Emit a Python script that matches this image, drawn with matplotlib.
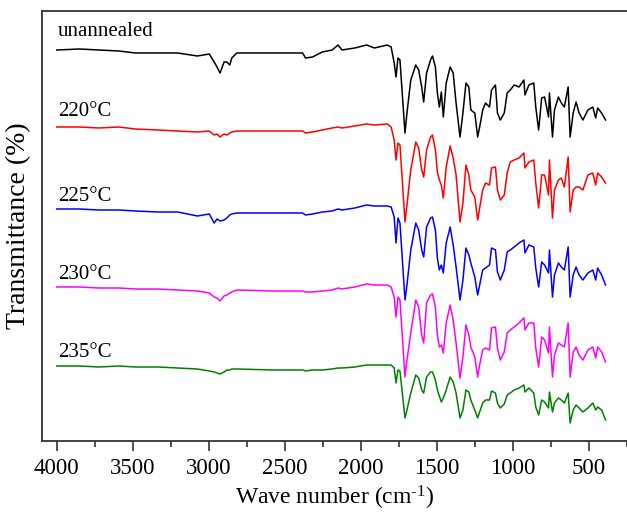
import matplotlib
matplotlib.use("Agg")
import matplotlib.pyplot as plt

plt.rcParams['font.family'] = ['Liberation Serif', 'DejaVu Serif']
plt.rcParams['mathtext.fontset'] = 'custom'
plt.rcParams['mathtext.rm'] = 'Liberation Serif'
plt.rcParams['mathtext.it'] = 'Liberation Serif:italic'

# Wave numbers (cm^-1)
wavenumber = [4000, 3851, 3722, 3592, 3483, 3334, 3204, 3075, 2997, 2965, 2946, 2926, 2900, 2881,
              2862, 2849, 2816, 2577, 2383, 2364, 2318, 2254, 2189, 2150, 2124, 2040, 1963, 1911,
              1827,
              1801, 1781, 1769, 1756, 1743, 1710, 1697, 1672, 1639, 1620,
              1600, 1587, 1568, 1542, 1529, 1510, 1497, 1484, 1471, 1458,
              1439, 1413, 1393, 1374, 1348, 1329, 1309, 1290, 1277, 1251,
              1232, 1219, 1199, 1180, 1154, 1141, 1115, 1102, 1083, 1057,
              1038, 1018, 992, 960, 928, 921, 895, 863, 850, 831,
              811, 792, 766, 760, 740, 727, 701, 682, 662, 637,
              624, 604, 585, 565, 540, 507, 475, 456, 443, 417,
              391]

# Transmittance (a.u., stacked as shown)
t_unannealed = [400, 401, 400, 399, 397, 397, 397, 394, 396, 388, 383, 377, 388, 388, 385, 392, 397, 397,
                397, 392, 393, 398, 400, 405, 400, 402, 405, 402, 405,
                403, 387, 373, 392, 390, 317, 337, 370, 385, 380,
                363, 348, 377, 390, 394, 383, 357, 343, 358, 333,
                367, 383, 377, 347, 313, 337, 367, 363, 340, 337,
                313, 323, 340, 347, 343, 360, 365, 337, 330, 337,
                357, 360, 365, 363, 370, 355, 365, 367, 343, 320,
                352, 353, 333, 357, 313, 340, 353, 347, 343, 363,
                313, 337, 348, 337, 330, 340, 343, 332, 342, 337,
                330]
t_220 = [323, 323, 322, 323, 321, 320, 319, 318, 319, 315, 316, 313, 316, 315, 317, 318, 319, 319,
         319, 317, 318, 320, 322, 323, 322, 324, 326, 325, 326,
         323, 310, 290, 307, 305, 228, 245, 280, 308, 302,
         280, 273, 300, 313, 315, 300, 278, 270, 265, 252,
         283, 304, 292, 275, 228, 247, 285, 275, 260, 253,
         230, 242, 260, 267, 265, 282, 283, 260, 250, 255,
         277, 288, 290, 292, 297, 282, 288, 290, 267, 242,
         275, 275, 255, 290, 232, 260, 270, 272, 263, 293,
         238, 260, 263, 263, 260, 275, 277, 265, 277, 273,
         267]
t_225 = [241, 241, 240, 240, 239, 238, 238, 234, 236, 227, 231, 229, 230, 232, 235, 236, 237, 237,
         237, 235, 236, 238, 239, 241, 240, 242, 245, 244, 244,
         243, 233, 207, 232, 227, 150, 165, 200, 227, 220,
         200, 193, 223, 232, 233, 220, 192, 180, 185, 177,
         207, 223, 205, 183, 150, 170, 202, 195, 187, 173,
         155, 165, 180, 182, 185, 202, 200, 178, 170, 180,
         198, 200, 203, 207, 210, 197, 205, 203, 182, 163,
         188, 185, 177, 200, 153, 175, 187, 183, 180, 203,
         153, 175, 183, 175, 170, 177, 180, 170, 182, 175,
         165]
t_230 = [163, 163, 162, 162, 161, 161, 160, 159, 157, 153, 152, 149, 154, 155, 157, 158, 160, 159,
         159, 158, 158, 159, 160, 162, 161, 163, 166, 165, 165,
         163, 153, 133, 153, 150, 73, 90, 117, 150, 143,
         115, 107, 147, 155, 156, 143, 115, 103, 105, 97,
         127, 145, 130, 107, 72, 93, 125, 115, 103, 93,
         73, 85, 100, 102, 100, 122, 123, 102, 90, 98,
         117, 120, 123, 127, 132, 120, 127, 127, 102, 83,
         113, 110, 97, 123, 73, 95, 107, 105, 103, 127,
         73, 98, 103, 95, 90, 100, 103, 92, 103, 98,
         88]
t_235 = [84, 84, 83, 84, 83, 83, 82, 81, 79, 78, 77, 76, 78, 80, 80, 81, 81, 80,
         80, 79, 80, 80, 81, 82, 82, 83, 85, 85, 85,
         85, 82, 67, 80, 79, 32, 40, 57, 75, 72,
         60, 57, 73, 78, 78, 70, 60, 54, 48, 52,
         60, 73, 68, 57, 32, 40, 60, 58, 50, 40,
         32, 38, 47, 50, 50, 59, 57, 47, 42, 46,
         55, 57, 60, 62, 65, 58, 62, 57, 43, 35,
         50, 48, 42, 58, 38, 47, 52, 50, 47, 57,
         27, 40, 45, 42, 38, 42, 47, 40, 43, 40,
         30]

labels = ['unannealed', '220\u00b0C', '225\u00b0C', '230\u00b0C', '235\u00b0C']
label_y = [414, 334, 249, 171, 93]
colors = ['black', '#ff0000', '#0000ff', '#ff00ff', '#008000']
x_ticks = [4000, 3500, 3000, 2500, 2000, 1500, 1000, 500]

series = [t_unannealed, t_220, t_225, t_230, t_235]

fig = plt.figure(figsize=(6.27, 5.16), dpi=100)
ax = fig.add_axes([42 / 627, 75 / 516, 1 - 42 / 627, 430 / 516])

for vals, lab, col, ly in zip(series, labels, colors, label_y):
    ax.plot(wavenumber, vals, color=col, lw=1.1)
    ax.text(3994, ly, lab, color='black', fontsize=15, ha='left', va='baseline')

ax.set_xlim(4097, 313)
ax.set_ylim(9, 439)
ax.set_xticks(x_ticks)
ax.set_xticks([t - 250 for t in x_ticks], minor=True)
ax.set_yticks([])
ax.spines['right'].set_visible(False)
for s in ['left', 'bottom', 'top']:
    ax.spines[s].set_linewidth(1.3)
    ax.spines[s].set_color('#333333')
ax.tick_params(axis='x', which='major', direction='out', length=7, width=1.2,
               labelsize=16.5, pad=5, color='#333333')
ax.tick_params(axis='x', which='minor', direction='out', length=4, width=1.2, color='#333333')

ax.set_xlabel(r'Wave number (cm$^{\text{-1}}$)', fontsize=17, labelpad=4)
ax.set_ylabel('Transmittance (%)', fontsize=20, labelpad=8)

fig.savefig('out.png', dpi=100)
